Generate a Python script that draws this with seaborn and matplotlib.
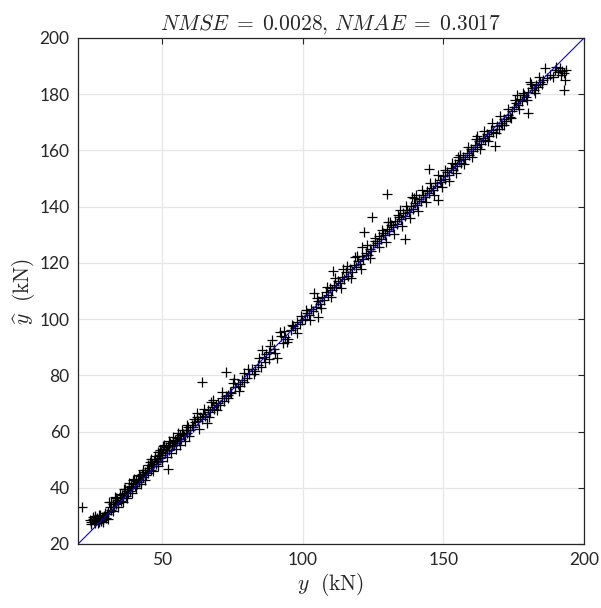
import numpy as np
import pandas as pd
import seaborn as sns
import matplotlib
matplotlib.use('Agg')
import matplotlib.pyplot as plt


y_true_a = [21.5, 24.3, 24.8, 25.2, 25.6, 26.0, 26.4, 26.9, 27.3, 27.7, 28.1, 28.6, 29.0, 29.4, 29.8, 30.3, 30.8, 31.0]
y_pred_a = [33.0, 28.4, 27.7, 28.9, 28.1, 27.5, 28.6, 29.3, 27.9, 28.8, 28.2, 29.5, 28.7, 30.1, 29.3, 30.6, 31.5, 35.0]

y_true_b = [31.4, 31.9, 32.3, 32.8, 33.2, 33.6, 34.0, 34.4, 34.9, 35.3, 35.7, 36.1, 36.5, 36.9, 37.3, 37.7, 38.1,
            38.5, 38.9, 39.3, 39.7, 40.1, 40.5, 40.9, 41.3, 41.7, 42.1, 42.5, 42.9, 43.3, 43.7, 44.1, 44.5, 44.9]
y_pred_b = [33.2, 32.0, 34.1, 33.0, 35.0, 34.2, 35.6, 34.6, 36.4, 35.4, 37.3, 36.4, 38.2, 37.1, 39.0, 38.1, 40.2,
            38.9, 40.6, 39.8, 41.5, 40.6, 42.4, 41.3, 43.2, 42.0, 44.1, 42.9, 45.0, 43.8, 45.6, 44.7, 46.5, 45.3]

y_true_c = [45.3, 45.6, 46.0, 46.4, 46.8, 47.2, 47.6, 48.0, 48.4, 48.8, 49.2, 49.6, 50.0, 50.4, 50.8, 51.2, 51.6, 52.0,
            52.1, 52.5, 52.9, 53.3, 53.7, 54.1, 54.5, 54.9, 55.3, 55.8, 56.3, 56.8, 57.3, 57.8, 58.3, 58.8, 59.3, 59.8]
y_pred_c = [47.2, 49.0, 46.5, 48.4, 47.6, 49.6, 48.3, 50.4, 49.3, 51.8, 50.6, 52.9, 51.5, 53.8, 52.4, 54.6, 53.5, 54.9,
            46.6, 53.6, 55.8, 54.7, 56.3, 55.2, 56.9, 55.8, 57.7, 56.6, 58.6, 57.4, 59.3, 58.5, 60.4, 59.6, 61.6, 60.5]

y_true_d = [60.4, 61.0, 61.6, 62.2, 62.8, 63.4, 64.0, 64.6, 65.2, 65.8, 66.4, 67.0, 67.7, 68.4, 69.1, 69.8,
            70.5, 71.1, 71.8, 72.5, 72.7, 73.2, 73.9, 74.6, 75.2, 76.0, 76.8, 77.6, 78.4, 79.2, 80.0, 64.0]
y_pred_d = [62.3, 61.6, 63.4, 66.5, 63.8, 65.0, 64.4, 66.3, 65.6, 62.9, 67.5, 66.8, 68.6, 67.9, 69.4, 70.3,
            69.6, 71.8, 71.0, 72.6, 81.1, 73.1, 74.2, 73.6, 77.2, 75.8, 76.9, 76.2, 78.3, 77.6, 79.2, 77.7]

y_true_e = [81.0, 82.0, 83.0, 84.0, 85.0, 85.3, 86.2, 87.0, 88.0, 88.9, 89.8, 90.7, 91.9, 92.8, 93.8, 94.8,
            95.8, 96.5, 97.3, 98.0, 99.0, 99.8]
y_pred_e = [80.4, 82.3, 81.7, 83.8, 83.1, 89.0, 86.5, 87.6, 88.3, 92.6, 89.5, 86.0, 95.5, 91.6, 93.8, 93.1,
            96.0, 97.4, 96.8, 98.9, 98.2, 99.6]

y_true_f = [100.6, 101.4, 102.3, 103.0, 103.7, 104.0, 104.5, 105.3, 105.5, 106.1, 106.9, 107.6, 108.3, 109.0,
            109.7, 110.4, 110.8, 111.1, 111.8, 112.5, 113.2, 113.9, 114.6, 115.3, 116.0, 116.7, 117.4, 118.1,
            118.8, 119.5, 120.2, 120.9, 121.5, 121.6, 122.3, 123.0, 123.7, 124.4, 124.5]
y_pred_f = [99.9, 102.0, 101.4, 103.6, 102.8, 109.2, 104.4, 106.3, 100.9, 105.4, 107.8, 106.9, 109.5, 108.6,
            111.2, 110.4, 117.2, 112.3, 111.6, 113.7, 112.8, 115.0, 114.1, 116.6, 115.4, 117.8, 116.9, 119.3,
            118.4, 120.6, 119.7, 122.4, 121.3, 131.1, 123.5, 122.8, 125.0, 124.1, 136.4]

y_true_g = [125.1, 125.8, 126.5, 127.2, 127.9, 128.6, 129.3, 129.8, 130.0, 130.7, 131.4, 132.1, 132.8, 133.5,
            134.2, 134.9, 135.6, 136.3, 136.5, 137.2, 137.9, 138.6, 138.7, 139.3, 140.0, 140.7, 141.4, 142.1,
            142.8, 143.5, 144.2, 144.9, 145.0, 145.6, 146.3, 147.0, 147.7, 148.2, 148.6, 149.3]
y_pred_g = [126.3, 127.9, 127.1, 129.4, 128.6, 130.8, 129.9, 144.5, 132.2, 131.4, 133.6, 132.7, 135.0, 133.9,
            136.4, 135.5, 137.6, 136.6, 128.5, 138.8, 138.0, 140.1, 143.3, 139.2, 141.4, 140.6, 142.9, 142.0,
            144.2, 143.4, 145.7, 144.9, 153.3, 146.8, 146.1, 148.3, 147.4, 142.4, 149.6, 148.8]

y_true_h = [150.0, 150.7, 151.4, 152.1, 152.8, 153.5, 154.2, 154.9, 155.6, 156.3, 157.0, 157.7, 158.4, 159.1,
            159.8, 160.5, 161.2, 161.9, 162.6, 163.3, 164.0, 164.7, 165.4, 166.1, 166.8, 167.5, 168.3, 168.9,
            169.6, 170.3, 171.0, 171.7, 172.4, 173.1, 173.8, 174.5]
y_pred_h = [150.9, 150.0, 152.3, 151.4, 153.7, 152.9, 155.2, 154.3, 156.5, 155.6, 157.8, 157.0, 159.2, 158.4,
            160.6, 159.8, 161.9, 161.1, 163.3, 162.4, 164.6, 163.8, 165.9, 165.1, 167.2, 166.4, 161.5, 168.6,
            167.8, 169.9, 169.1, 171.3, 170.6, 172.7, 171.8, 174.1]

y_true_i = [175.2, 175.9, 176.5, 177.2, 177.9, 178.6, 179.3, 180.0, 180.2, 180.8, 181.5, 182.2, 182.9, 183.6,
            184.3, 185.0, 186.1, 187.0, 188.0, 189.1, 189.8, 190.6, 191.4, 192.1, 192.8, 193.0, 193.3]
y_pred_i = [175.5, 177.0, 176.2, 178.4, 177.6, 179.8, 179.0, 180.9, 173.4, 184.5, 182.1, 181.4, 183.2, 182.6,
            184.3, 183.7, 189.2, 185.8, 186.9, 186.2, 188.6, 188.0, 189.4, 188.3, 187.6, 181.5, 185.0]

# outer edge of the band (points further off the diagonal)
y_true_a2 = [24.6, 25.4, 26.2, 27.1, 27.9, 28.9, 29.6, 30.5, 25.9, 27.5]
y_pred_a2 = [27.2, 29.6, 29.9, 27.6, 30.2, 27.8, 31.0, 29.0, 28.9, 30.4]

y_true_b2 = [31.7, 32.6, 33.5, 34.2, 35.1, 36.0, 36.8, 37.5, 38.3, 39.1, 40.0, 40.8, 41.6, 42.4, 43.2, 44.0,
             44.8, 33.0, 36.3, 39.5]
y_pred_b2 = [34.9, 31.6, 36.3, 33.1, 37.9, 35.0, 39.6, 36.4, 41.6, 38.3, 43.0, 39.8, 44.6, 41.4, 46.3, 42.8,
             48.0, 36.8, 39.5, 42.7]

y_true_c2 = [45.9, 46.7, 47.5, 48.3, 49.1, 49.9, 50.7, 51.5, 52.3, 53.1, 53.9, 54.7, 55.5, 56.2, 57.0, 57.9,
             58.7, 59.5, 50.2, 48.6]
y_pred_c2 = [50.3, 46.0, 51.2, 47.6, 53.4, 49.4, 55.3, 51.0, 56.6, 52.4, 58.0, 53.7, 59.4, 55.2, 60.6, 56.6,
             62.4, 58.4, 54.8, 52.7]

y_true_d2 = [61.3, 63.0, 64.8, 66.7, 68.1, 69.5, 71.4, 73.5, 75.6, 77.2, 79.0, 62.5, 67.3]
y_pred_d2 = [64.6, 60.8, 68.2, 65.0, 71.2, 67.6, 73.9, 71.8, 78.6, 74.6, 80.8, 65.3, 70.4]

y_true_e2 = [80.6, 82.6, 84.5, 86.6, 88.4, 90.2, 92.3, 94.2, 96.1, 97.8, 99.4, 87.8, 93.3]
y_pred_e2 = [82.4, 80.6, 86.2, 84.6, 90.6, 87.8, 94.0, 91.7, 98.0, 95.2, 101.0, 85.9, 95.9]

y_true_f2 = [101.0, 102.7, 104.9, 106.5, 108.7, 110.0, 111.5, 113.6, 115.7, 117.0, 119.1, 120.6, 122.7, 124.0,
             114.4, 118.5, 121.2]
y_pred_f2 = [103.3, 99.8, 107.4, 103.9, 111.6, 107.8, 114.6, 110.9, 118.8, 114.6, 122.4, 117.8, 126.4, 121.6,
             117.9, 122.0, 125.7]

y_true_g2 = [125.5, 126.9, 128.2, 129.6, 131.0, 132.5, 133.9, 135.3, 136.7, 138.2, 139.6, 141.0, 142.4, 143.9,
             145.3, 146.7, 148.0, 149.6, 130.4, 134.6, 140.3]
y_pred_g2 = [128.9, 125.6, 131.6, 127.6, 134.7, 130.4, 137.2, 133.0, 140.1, 135.8, 143.0, 138.6, 145.8, 141.5,
             148.4, 144.3, 151.2, 147.0, 134.6, 138.9, 144.1]

y_true_h2 = [150.4, 151.8, 153.2, 154.6, 156.0, 157.4, 158.8, 160.2, 161.6, 163.0, 164.4, 165.8, 167.2, 168.6,
             170.0, 171.4, 172.8, 174.2, 155.0, 162.0]
y_pred_h2 = [152.9, 149.2, 155.7, 152.1, 158.5, 155.0, 161.3, 157.8, 164.0, 160.6, 166.8, 163.4, 169.6, 166.3,
             172.2, 168.9, 174.9, 171.7, 157.7, 165.3]

y_true_i2 = [175.6, 177.0, 178.3, 179.7, 181.2, 182.6, 184.0, 185.5, 190.2, 191.8, 193.5, 176.2]
y_pred_i2 = [177.9, 174.9, 180.6, 177.8, 183.8, 180.6, 186.0, 184.9, 189.8, 187.0, 188.7, 179.6]

ref_line = [20, 200]
x_ticks = [50, 100, 150, 200]
y_ticks = [20, 40, 60, 80, 100, 120, 140, 160, 180, 200]

y_true = (y_true_a + y_true_b + y_true_c + y_true_d + y_true_e + y_true_f + y_true_g + y_true_h + y_true_i
          + y_true_a2 + y_true_b2 + y_true_c2 + y_true_d2 + y_true_e2 + y_true_f2 + y_true_g2 + y_true_h2 + y_true_i2)
y_pred = (y_pred_a + y_pred_b + y_pred_c + y_pred_d + y_pred_e + y_pred_f + y_pred_g + y_pred_h + y_pred_i
          + y_pred_a2 + y_pred_b2 + y_pred_c2 + y_pred_d2 + y_pred_e2 + y_pred_f2 + y_pred_g2 + y_pred_h2 + y_pred_i2)
df = pd.DataFrame({'y': y_true, 'yhat': y_pred})

sns.set_style('white')
plt.rcParams['font.family'] = ['Lato', 'DejaVu Sans']
plt.rcParams['mathtext.fontset'] = 'cm'

fig = plt.figure(figsize=(6.01, 6.08), dpi=100)
ax = fig.add_axes([78 / 601, 1 - 544 / 608, 506 / 601, 506 / 608])

ax.grid(True, color='#e6e6e6', linewidth=0.9)
ax.set_axisbelow(True)

sns.scatterplot(data=df, x='y', y='yhat', marker='+', color='black', s=55, linewidth=0.9, ax=ax, zorder=2)
sns.lineplot(x=ref_line, y=ref_line, color='blue', linewidth=0.8, ax=ax, zorder=3)

ax.set_xlim(20, 200)
ax.set_ylim(20, 200)
ax.set_xticks(x_ticks)
ax.set_yticks(y_ticks)
ax.tick_params(direction='in', length=4, width=0.8, color='#262626', labelsize=12.5, labelcolor='#262626',
               top=True, right=True, pad=6)
for sp in ax.spines.values():
    sp.set_color('#262626')
    sp.set_linewidth(0.9)

ax.set_xlabel(r'$y\ \ (\mathrm{kN})$', fontsize=15.5, labelpad=2)
ax.set_ylabel(r'$\widehat{y}\ \ (\mathrm{kN})$', fontsize=15.5, labelpad=2)
ax.set_title(r'$NMSE \;=\; 0.0028,\, NMAE \;=\; 0.3017$', fontsize=15.5, pad=6)

fig.savefig('out.png', dpi=100)
